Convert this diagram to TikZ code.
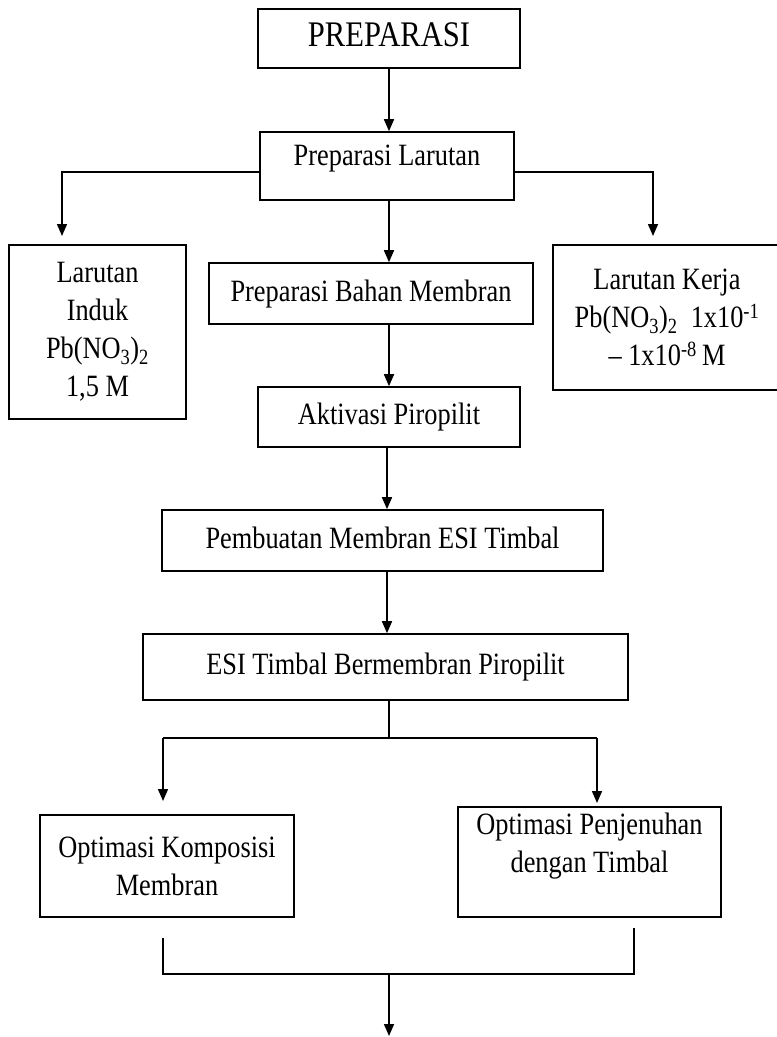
\documentclass[tikz,border=0pt]{standalone}
\usepackage{fontspec}
\setmainfont{Liberation Serif}[FakeStretch=0.85]
\usetikzlibrary{arrows.meta}
\begin{document}
\begin{tikzpicture}[x=1pt,y=-1pt,
  box/.style={draw, line width=1.6pt, align=center, inner sep=0pt,
    font=\fontsize{31}{38}\selectfont},
  one/.style={text height=21pt, text depth=6pt},
  conn/.style={line width=1.5pt},
  arr/.style={conn, -{Triangle[length=12pt,width=10pt]}}]
\fill[white] (0,0) rectangle (777,1037);
\useasboundingbox (0,0) rectangle (777,1037);
% nodes
\node[box, one, minimum width=262pt, minimum height=59pt, font=\fontsize{36}{40}\selectfont] (prep) at (389,38.5) {PREPARASI};
\node[box, text height=21pt, text depth=22pt, minimum width=254pt, minimum height=68pt] (larutan) at (387,166) {Preparasi Larutan};
\node[box, minimum width=177pt, minimum height=174pt] (induk) at (97.5,332) {Larutan\\Induk\\Pb(NO\textsubscript{3})\textsubscript{2}\\1,5 M};
\node[box, one, minimum width=324pt, minimum height=61pt] (bahan) at (371,293.5) {Preparasi Bahan Membran};
\node[box, minimum width=228pt, minimum height=145pt] (kerja) at (667,317.5) {Larutan Kerja\\Pb(NO\textsubscript{3})\textsubscript{2}\ \ 1x10\textsuperscript{-1}\\– 1x10\textsuperscript{-8}\,M};
\node[box, one, minimum width=262pt, minimum height=60pt] (aktivasi) at (389,417) {Aktivasi Piropilit};
\node[box, one, minimum width=441pt, minimum height=61pt] (pembuatan) at (382.5,540.5) {Pembuatan Membran ESI Timbal};
\node[box, one, minimum width=485pt, minimum height=66pt] (esi) at (385.5,667) {ESI Timbal Bermembran Piropilit};
\node[box, minimum width=254pt, minimum height=102pt] (optkom) at (167,866) {Optimasi Komposisi\\Membran};
\node[box, minimum width=263pt, minimum height=110pt] (optpen) at (589.5,862) {\raisebox{0pt}{Optimasi Penjenuhan}\\dengan Timbal\\[-0.1pt]\rule{0pt}{14pt}};
% helper coordinates
\coordinate (cx) at (389,0);
\coordinate (cx2) at (387,0);
\coordinate (lL) at (62,172);
\coordinate (lLe) at (62,236);
\coordinate (lR) at (653,172);
\coordinate (lRe) at (653,236);
\coordinate (sp) at (389,738);
\coordinate (spL) at (163,738);
\coordinate (spR) at (597,738);
\coordinate (spLe) at (163,801);
\coordinate (spRe) at (597,803);
\coordinate (bL) at (163,938);
\coordinate (bLb) at (163,974);
\coordinate (bR) at (634,928);
\coordinate (bRb) at (634,974);
\coordinate (bM) at (389,974);
\coordinate (bMe) at (389,1036);
% connectors
\draw[arr] (prep.south -| cx) -- (larutan.north -| cx);
\draw[arr] (larutan.west |- lL) -- (lL) -- (lLe);
\draw[arr] (larutan.east |- lR) -- (lR) -- (lRe);
\draw[arr] (larutan.south -| cx) -- (bahan.north -| cx);
\draw[arr] (bahan.south -| cx) -- (aktivasi.north -| cx);
\draw[arr] (aktivasi.south -| cx2) -- (pembuatan.north -| cx2);
\draw[arr] (pembuatan.south -| cx2) -- (esi.north -| cx2);
\draw[conn] (esi.south -| sp) -- (sp);
\draw[conn] (spL) -- (spR);
\draw[arr] (spL) -- (spLe);
\draw[arr] (spR) -- (spRe);
\draw[conn] (bL) -- (bLb) -- (bRb) -- (bR);
\draw[arr] (bM) -- (bMe);
\end{tikzpicture}
\end{document}
